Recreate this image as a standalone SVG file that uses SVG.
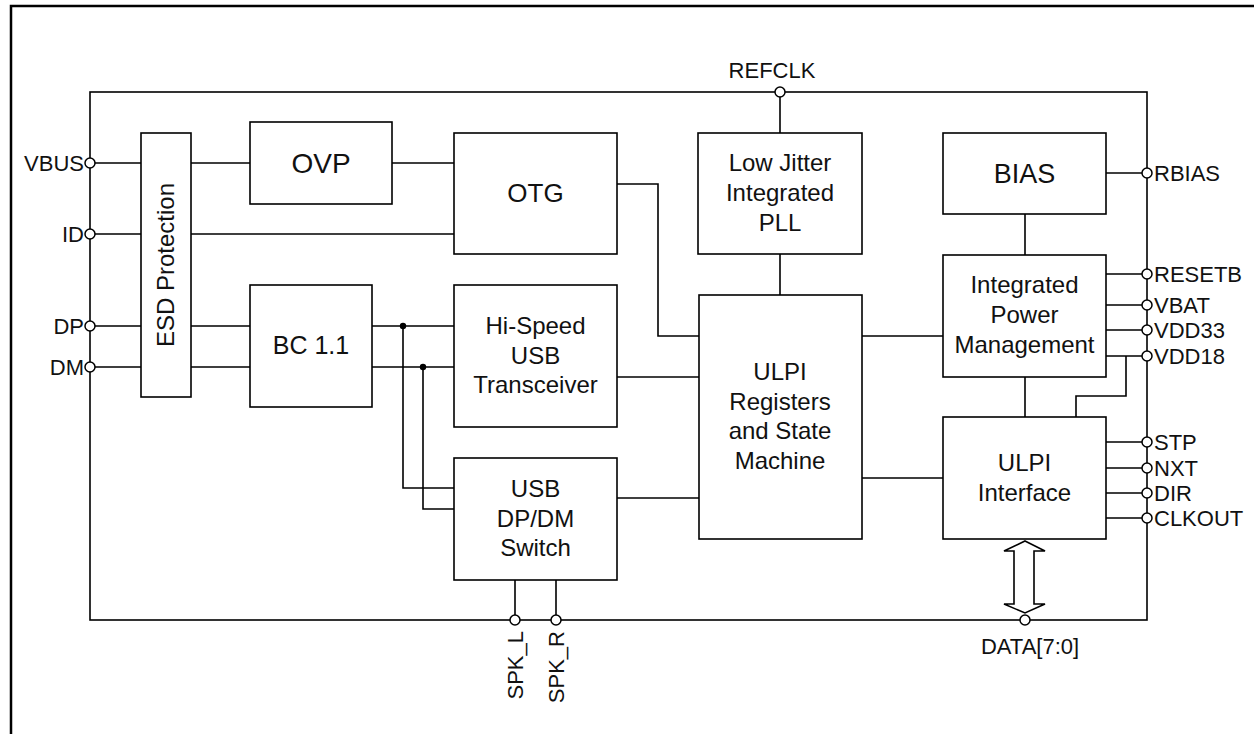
<svg xmlns="http://www.w3.org/2000/svg" width="1254" height="734" viewBox="0 0 1254 734">
<style>
.frame{fill:none;stroke:#000;stroke-width:2.5}
.chip{fill:none;stroke:#000;stroke-width:1.6}
.box{fill:#fff;stroke:#000;stroke-width:1.6}
.wire{fill:none;stroke:#000;stroke-width:1.6}
.pin{fill:#fff;stroke:#000;stroke-width:1.5}
.dot{fill:#000}
.bt{font-family:"Liberation Sans",Arial,sans-serif;font-size:24px;fill:#111;text-anchor:middle}
.pl{font-family:"Liberation Sans",Arial,sans-serif;font-size:22px;fill:#111}
.r{text-anchor:end}
.c{text-anchor:middle}
</style>
<rect width="1254" height="734" fill="#fff"/>
<path class="frame" d="M11,734 V6 H1254"/>
<rect class="chip" x="90" y="92" width="1057" height="528"/>

<g id="connectors">
<path class="wire" d="M90,163 H141 M191,163 H250 M392,163 H454"/>
<path class="wire" d="M90,234 H141 M191,234 H454"/>
<path class="wire" d="M90,326 H141 M191,326 H250 M372,326 H454"/>
<path class="wire" d="M90,367 H141 M191,367 H250 M372,367 H454"/>
<path class="wire" d="M403,326 V488 H454"/>
<path class="wire" d="M423,367 V509 H454"/>
<path class="wire" d="M617,184 H658 V336 H699"/>
<path class="wire" d="M617,377 H699"/>
<path class="wire" d="M617,498 H699"/>
<path class="wire" d="M780,92 V133 M780,254 V295"/>
<path class="wire" d="M862,336 H943 M862,478 H943"/>
<path class="wire" d="M1106,173 H1147"/>
<path class="wire" d="M1025,214 V255 M1025,377 V417"/>
<path class="wire" d="M1106,274 H1147 M1106,305 H1147 M1106,330 H1147 M1106,356 H1147"/>
<path class="wire" d="M1126,356 V396 H1076 V417"/>
<path class="wire" d="M1106,442 H1147 M1106,468 H1147 M1106,493 H1147 M1106,518 H1147"/>
<path class="wire" d="M515,580 V620 M556,580 V620"/>
<polygon class="box" points="1025,541 1045,551 1034,551 1034,604 1045,604 1025,613 1004,604 1014,604 1014,551 1004,551"/>
<circle class="dot" cx="403" cy="326" r="3.2"/>
<circle class="dot" cx="423" cy="367" r="3.2"/>
</g>

<g id="esd"><rect class="box" x="141" y="133" width="50" height="264"/>
<text class="bt" transform="translate(174,265) rotate(-90)" x="0" y="0">ESD Protection</text></g>
<g id="ovp"><rect class="box" x="250" y="122" width="142" height="82"/>
<text class="bt" x="321" y="173" style="font-size:28px">OVP</text></g>
<g id="otg"><rect class="box" x="454" y="133" width="163" height="121"/>
<text class="bt" x="535.5" y="202" style="font-size:26px">OTG</text></g>
<g id="pll"><rect class="box" x="698" y="133" width="164" height="121"/>
<text class="bt" x="780" y="171">Low Jitter</text>
<text class="bt" x="780" y="201">Integrated</text>
<text class="bt" x="780" y="231">PLL</text></g>
<g id="bias"><rect class="box" x="943" y="133" width="163" height="81"/>
<text class="bt" x="1024.5" y="183" style="font-size:27px">BIAS</text></g>
<g id="bc"><rect class="box" x="250" y="285" width="122" height="122"/>
<text class="bt" x="311" y="354" style="font-size:25px">BC 1.1</text></g>
<g id="hs"><rect class="box" x="454" y="285" width="163" height="142"/>
<text class="bt" x="535.5" y="334">Hi-Speed</text>
<text class="bt" x="535.5" y="363.5">USB</text>
<text class="bt" x="535.5" y="393">Transceiver</text></g>
<g id="switch"><rect class="box" x="454" y="458" width="163" height="122"/>
<text class="bt" x="535.5" y="497">USB</text>
<text class="bt" x="535.5" y="527">DP/DM</text>
<text class="bt" x="535.5" y="556">Switch</text></g>
<g id="regs"><rect class="box" x="699" y="295" width="163" height="244"/>
<text class="bt" x="780" y="380">ULPI</text>
<text class="bt" x="780" y="409.5">Registers</text>
<text class="bt" x="780" y="439">and State</text>
<text class="bt" x="780" y="469">Machine</text></g>
<g id="pmu"><rect class="box" x="943" y="255" width="163" height="122"/>
<text class="bt" x="1024.5" y="293">Integrated</text>
<text class="bt" x="1024.5" y="323">Power</text>
<text class="bt" x="1024.5" y="352.5">Management</text></g>
<g id="ulpi"><rect class="box" x="943" y="417" width="163" height="122"/>
<text class="bt" x="1024.5" y="471">ULPI</text>
<text class="bt" x="1024.5" y="501">Interface</text></g>

<g id="pins">
<circle class="pin" cx="90" cy="163" r="5"/>
<circle class="pin" cx="90" cy="234" r="5"/>
<circle class="pin" cx="90" cy="326" r="5"/>
<circle class="pin" cx="90" cy="367" r="5"/>
<circle class="pin" cx="780" cy="92" r="5"/>
<circle class="pin" cx="1147" cy="173" r="5"/>
<circle class="pin" cx="1147" cy="274" r="5"/>
<circle class="pin" cx="1147" cy="305" r="5"/>
<circle class="pin" cx="1147" cy="330" r="5"/>
<circle class="pin" cx="1147" cy="356" r="5"/>
<circle class="pin" cx="1147" cy="442" r="5"/>
<circle class="pin" cx="1147" cy="468" r="5"/>
<circle class="pin" cx="1147" cy="493" r="5"/>
<circle class="pin" cx="1147" cy="518" r="5"/>
<circle class="pin" cx="515" cy="620" r="5"/>
<circle class="pin" cx="556" cy="620" r="5"/>
<circle class="pin" cx="1025" cy="620" r="5"/>
<text class="pl r" x="84" y="171">VBUS</text>
<text class="pl r" x="84" y="242">ID</text>
<text class="pl r" x="84" y="334">DP</text>
<text class="pl r" x="84" y="375">DM</text>
<text class="pl c" x="772" y="78">REFCLK</text>
<text class="pl" x="1154" y="181">RBIAS</text>
<text class="pl" x="1154" y="282">RESETB</text>
<text class="pl" x="1154" y="313">VBAT</text>
<text class="pl" x="1154" y="338">VDD33</text>
<text class="pl" x="1154" y="364">VDD18</text>
<text class="pl" x="1154" y="450">STP</text>
<text class="pl" x="1154" y="476">NXT</text>
<text class="pl" x="1154" y="501">DIR</text>
<text class="pl" x="1154" y="526">CLKOUT</text>
<text class="pl c" x="1030" y="654">DATA[7:0]</text>
<text class="pl r" transform="translate(523,631) rotate(-90)">SPK_L</text>
<text class="pl r" transform="translate(564,631) rotate(-90)">SPK_R</text>
</g>
</svg>
